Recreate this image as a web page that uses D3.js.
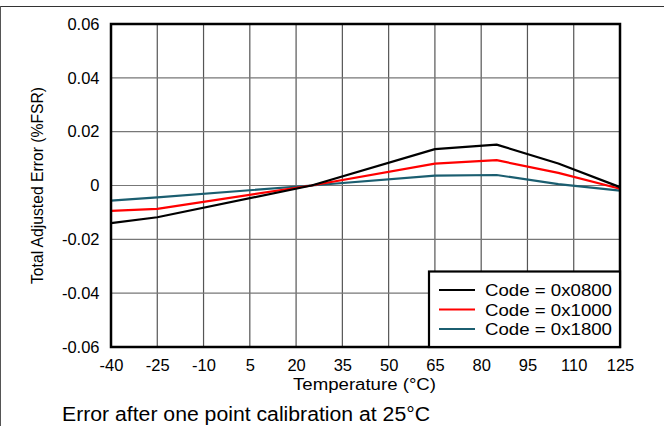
<!DOCTYPE html>
<html>
<head>
<meta charset="utf-8">
<script src="https://cdn.jsdelivr.net/npm/d3@7"></script>
<style>
html,body{margin:0;padding:0;background:#fff;}
svg{display:block;}
text{font-family:Arial,"Liberation Sans",sans-serif;fill:#000;}
</style>
</head>
<body>
<svg id="chart" width="664" height="426"></svg>
<script>
// ---- data ----
const temperatures = [-40, -25, 25, 65, 85, 105, 125];
const code0800 = [-0.0140, -0.0118, 0.0000, 0.0135, 0.0152, 0.0082, -0.0006];
const code1000 = [-0.0094, -0.0087, 0.0000, 0.0081, 0.0094, 0.0047, -0.0012];
const code1800 = [-0.0056, -0.0044, 0.0000, 0.0037, 0.0039, 0.0005, -0.0019];
const seriesNames = ["Code = 0x0800", "Code = 0x1000", "Code = 0x1800"];
const xTicks = [-40, -25, -10, 5, 20, 35, 50, 65, 80, 95, 110, 125];
const yTicks = [-0.06, -0.04, -0.02, 0, 0.02, 0.04, 0.06];
const colors = ["#000000", "#ff0000", "#1b5e70"];

const svg = d3.select("#chart");
const L = 111, R = 620, T = 24, B = 347;
const x = d3.scaleLinear().domain([-40, 125]).range([L, R]);
const y = d3.scaleLinear().domain([-0.06, 0.06]).range([B, T]);

// outer frame
svg.append("line").attr("x1",0).attr("x2",664).attr("y1",6.5).attr("y2",6.5).attr("stroke","#333").attr("stroke-width",1.2);
svg.append("line").attr("x1",0.5).attr("x2",0.5).attr("y1",6).attr("y2",426).attr("stroke","#555").attr("stroke-width",1);

// grid
const g = svg.append("g");
g.selectAll(".vg").data(xTicks).enter().append("line")
  .attr("x1", d => x(d)).attr("x2", d => x(d)).attr("y1", T).attr("y2", B)
  .attr("stroke", "#555").attr("stroke-width", 1.2);
g.selectAll(".hg").data(yTicks).enter().append("line")
  .attr("x1", L).attr("x2", R).attr("y1", d => y(d)).attr("y2", d => y(d))
  .attr("stroke", "#777").attr("stroke-width", 1.2);

// axes (labels only)
const xAxis = d3.axisBottom(x).tickValues(xTicks).tickSize(0).tickPadding(12).tickFormat(d => String(d));
const xa = svg.append("g").attr("transform", `translate(0,${B})`).call(xAxis);
xa.select(".domain").remove();
xa.selectAll("text").attr("font-size", 16.5).attr("font-family", "Arial, 'Liberation Sans', sans-serif").attr("fill","#000");

const yAxis = d3.axisLeft(y).tickValues(yTicks).tickSize(0).tickPadding(11.5)
  .tickFormat(d => Math.abs(d) < 1e-9 ? "0" : d.toFixed(2));
const ya = svg.append("g").attr("transform", `translate(${L},0)`).call(yAxis);
ya.select(".domain").remove();
ya.selectAll("text").attr("font-size", 16.5).attr("font-family", "Arial, 'Liberation Sans', sans-serif").attr("fill","#000");

// series lines
const allSeries = [code0800, code1000, code1800];
const line = d3.line().x((d, i) => x(temperatures[i])).y(d => y(d));
const order = [2, 1, 0];
order.forEach(k => {
  svg.append("path").datum(allSeries[k]).attr("d", line)
    .attr("fill", "none").attr("stroke", colors[k]).attr("stroke-width", 2.2)
    .attr("stroke-linejoin", "round");
});

// plot border
svg.append("rect").attr("x", L).attr("y", T).attr("width", R - L).attr("height", B - T)
  .attr("fill", "none").attr("stroke", "#000").attr("stroke-width", 2.5);

// legend
const lg = svg.append("g");
const lx = 429, ly = 271.5;
lg.append("rect").attr("x", lx).attr("y", ly).attr("width", R - lx).attr("height", B - ly)
  .attr("fill", "#fff").attr("stroke", "#000").attr("stroke-width", 2.2);
seriesNames.forEach((name, i) => {
  const yy = 290 + i * 19.5;
  lg.append("line").attr("x1", 439).attr("x2", 475).attr("y1", yy).attr("y2", yy)
    .attr("stroke", colors[i]).attr("stroke-width", 2.2);
  lg.append("text").attr("x", 485).attr("y", yy).attr("dy", "0.36em")
    .attr("font-size", 17).attr("textLength", 127).attr("lengthAdjust", "spacingAndGlyphs").text(name);
});

// titles
svg.append("text").attr("x", 293).attr("y", 390)
  .attr("font-size", 16).attr("textLength", 143).attr("lengthAdjust", "spacingAndGlyphs").text("Temperature (°C)");
svg.append("text").attr("transform", `translate(42.5,${(T + B) / 2}) rotate(-90)`)
  .attr("text-anchor", "middle").attr("font-size", 15.7).text("Total Adjusted Error (%FSR)");
svg.append("text").attr("x", 62).attr("y", 421).attr("font-size", 19.5)
  .attr("textLength", 368).attr("lengthAdjust", "spacingAndGlyphs")
  .text("Error after one point calibration at 25°C");
</script>
</body>
</html>
